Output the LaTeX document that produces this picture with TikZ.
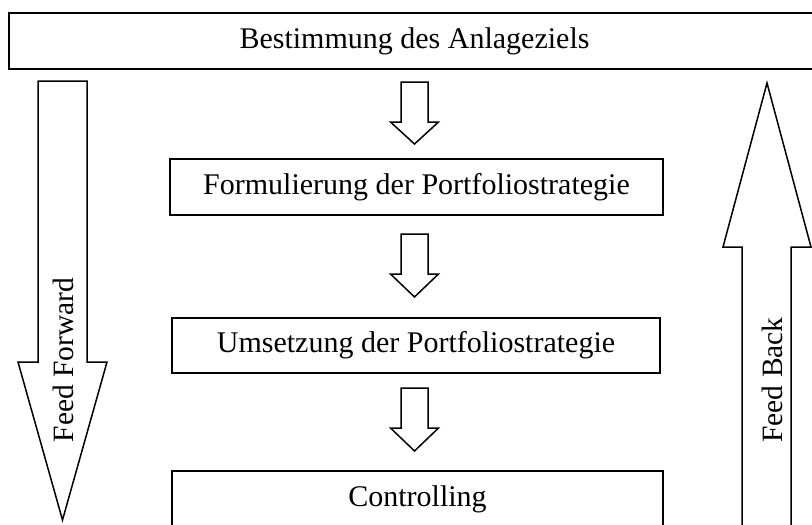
\documentclass[tikz,border=0pt]{standalone}
\usepackage{fontspec}
\setmainfont{Liberation Serif}
\begin{document}
\begin{tikzpicture}[x=1pt,y=-1pt,
  box/.style={draw=black,line width=2.5pt,inner sep=0pt,anchor=center,
    font=\fontsize{30}{34}\selectfont},
  blockarrow/.style={draw=black,line width=1.5pt,fill=white,line join=miter},
  lbl/.style={inner sep=0pt,rotate=90,font=\fontsize{29.5}{34}\selectfont}]
\useasboundingbox (0,0) rectangle (812,525);
\clip (0,0) rectangle (812,525);
\fill[white] (0,0) rectangle (812,525);
% boxes
\node[box,minimum width=811pt,minimum height=56pt] (ziel) at (414.5,41) {};
\node[font=\fontsize{30}{34}\selectfont,inner sep=0pt] (zieltxt) at (414.5,41) {Bestimmung des Anlageziels};
\node[box,minimum width=493pt,minimum height=56pt] (form) at (416.5,187) {Formulierung der Portfoliostrategie};
\node[box,minimum width=488pt,minimum height=55pt] (ums) at (416,345.5) {Umsetzung der Portfoliostrategie};
\node[box,minimum width=491pt,minimum height=56pt] (contr) at (417.5,499) {Controlling};
% small block arrows
\foreach \t/\b/\p/\n in {82/122/144/a1, 234/274/297/a2, 388/428/451/a3}{
  \draw[blockarrow] (401,\t) -- (428,\t) -- (428,\b) -- (438.5,\b) -- (414.5,\p)
    -- (390.5,\b) -- (401,\b) -- cycle;
}
% left big arrow (Feed Forward)
\draw[blockarrow] (38,81) -- (87,81) -- (87,362) -- (107,362) -- (62.5,520)
  -- (18,362) -- (38,362) -- cycle;
\node[lbl] (ff) at (63,360) {Feed Forward};
% right big arrow (Feed Back)
\draw[blockarrow] (742,535) -- (742,247) -- (723,247) -- (767,83) -- (811,247)
  -- (791,247) -- (791,535);
\node[lbl] (fb) at (772,380) {Feed Back};
\end{tikzpicture}
\end{document}
